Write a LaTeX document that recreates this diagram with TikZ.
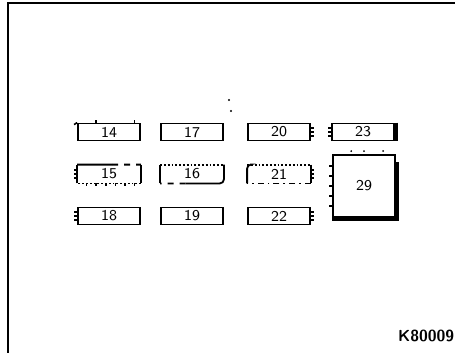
\documentclass[tikz,border=0pt]{standalone}
\usetikzlibrary{arrows.meta,calc,positioning}

\begin{document}
\begin{tikzpicture}[x=0.5pt,y=-0.5pt,
    fuse/.style={draw,line width=0.9pt,minimum width=31pt,minimum height=8.5pt,
      inner sep=0pt,font=\sffamily\fontsize{7.5}{8}\selectfont},
    fuseopen/.style={fuse,draw=none},
    pin/.style={line width=0.8pt},
    edge/.style={line width=0.9pt}]
  \useasboundingbox (0,0) rectangle (455,353);
  % frame
  \draw[line width=1pt] (8,353) |- (455,3);
  \fill (229,100) circle (1.2);
  \fill (231,111) circle (1.2);
  % fuses with full outline
  \foreach \n/\x/\y in {14/109/132,17/192/132,20/279/132,23/363/132,
                        18/109/216,19/192/216,22/279/216}
    {\node[fuse] (f\n) at (\x,\y) {\n};}
  % fuses with broken outline
  \foreach \n/\x/\y in {15/109/174,16/192/174,21/279/174}
    {\node[fuseopen] (f\n) at (\x,\y) {\n};}
  \node[fuse,minimum height=31pt] (f29) at (364,186) {29};
  % 15
  \draw[edge] (f15.north west) -- ($(f15.north west)!0.55!(f15.north east)$);
  \draw[edge,dashed] ($(f15.north west)!0.55!(f15.north east)$) -- (f15.north east);
  \draw[edge] (f15.north east) -- (f15.south east);
  \draw[edge,densely dotted] (f15.south east) -- (f15.south west);
  \draw[edge] (f15.south west) -- (f15.north west);
  % 16
  \draw[edge,densely dotted] (f16.north west) -- (f16.north east);
  \draw[edge,rounded corners=2] (f16.north east) -- (f16.south east)
    -- ($(f16.south east)!0.6!(f16.south west)$);
  \draw[edge,dashed] ($(f16.south east)!0.6!(f16.south west)$) -- (f16.south west);
  \draw[edge] (f16.south west) -- (f16.north west);
  % 21
  \draw[edge,densely dotted] (f21.north west) -- (f21.north east);
  \draw[edge] (f21.north east) -- (f21.south east);
  \draw[edge,dash dot] (f21.south east) -- (f21.south west);
  \draw[edge,rounded corners=2] (f21.south west) -- (f21.north west) -- ++(3,0);
  % terminals
  \foreach \p in {0.3,0.9}
    {\draw[pin] ($(f14.north west)!\p!(f14.north east)$) -- ++(0,-3);}
  \draw[pin] (f14.north west) -- ++(-3,2);
  \foreach \n in {15,18}
    \foreach \dy in {-4,0,4}
      {\draw[pin] ($(f\n.west)+(0,\dy)$) -- ++(-3,0);}
  \foreach \p in {0.15,0.3,0.45,0.6,0.75,0.9}
    {\draw[pin] ($(f15.south west)!\p!(f15.south east)$) -- ++(0,3);}
  \foreach \n in {20,21,22}
    \foreach \dy in {-4,0,4}
      {\draw[pin] ($(f\n.east)+(0,\dy)$) -- ++(3,0);}
  \foreach \dy in {-4,0,4}
    {\draw[pin] ($(f23.west)+(0,\dy)$) -- ++(-3,0);}
  \draw[line width=1.6pt] ($(f23.north east)+(1,0)$) -- ($(f23.south east)+(1,0)$);
  \foreach \dy in {-20,-10,0,10,20}
    {\draw[pin] ($(f29.west)+(0,\dy)$) -- ++(-3,0);}
  \draw[line width=1.6pt] ($(f29.north east)+(1,8)$) -- ($(f29.south east)+(1,1)$)
    -- ($(f29.south west)+(0,1)$);
  \foreach \p in {0.3,0.5,0.8}
    {\fill ($(f29.north west)!\p!(f29.north east)+(0,-3)$) circle (1);}
  % code
  \node[anchor=west,font=\sffamily\bfseries\fontsize{8}{9}\selectfont] (code) at (391,336) {K80009};
\end{tikzpicture}
\end{document}
